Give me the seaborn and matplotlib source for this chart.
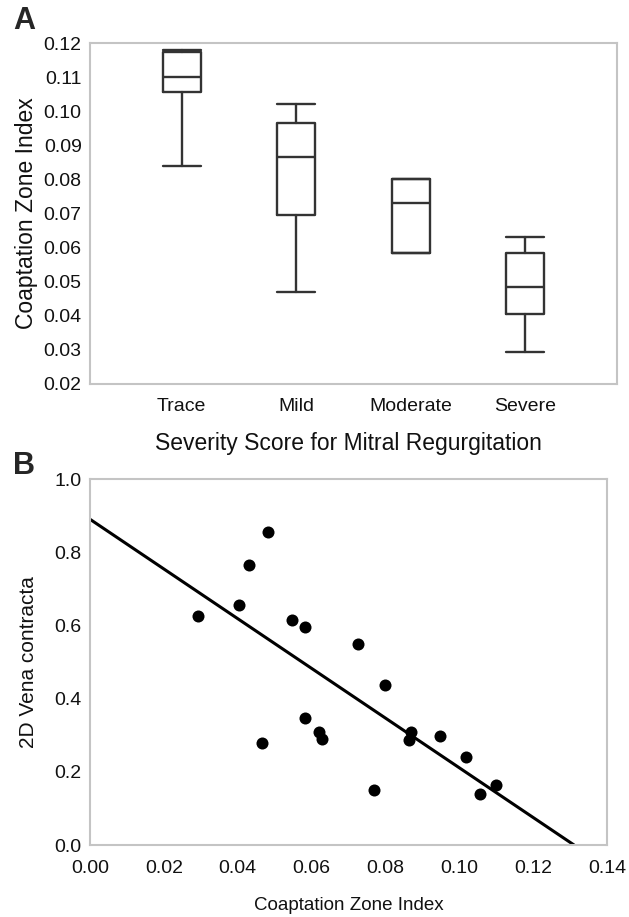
import seaborn as sns
import matplotlib.pyplot as plt
import pandas as pd
import numpy as np

# Panel A: box summary per MR severity grade
categories = ['Trace', 'Mild', 'Moderate', 'Severe']
box_min = [0.084, 0.047, 0.0585, 0.0295]
box_q1 = [0.1055, 0.0695, 0.0585, 0.0405]
box_med = [0.110, 0.0865, 0.073, 0.0485]
box_q3 = [0.1175, 0.0965, 0.080, 0.0585]
box_max = [0.118, 0.102, 0.080, 0.063]

# Panel B: coaptation zone index vs 2D vena contracta
czi = [0.0293, 0.0404, 0.0430, 0.0483, 0.0467, 0.0546, 0.0582, 0.0582, 0.0619, 0.0627,
       0.0727, 0.0769, 0.0798, 0.0868, 0.0863, 0.0948, 0.1019, 0.1055, 0.1099]
vena = [0.626, 0.656, 0.765, 0.854, 0.278, 0.614, 0.596, 0.348, 0.310, 0.289,
        0.548, 0.150, 0.438, 0.310, 0.288, 0.299, 0.240, 0.139, 0.163]
fit_intercept = 0.89
fit_slope = -6.79

sns.set_style("white")
plt.rcParams['font.family'] = ['Liberation Sans', 'DejaVu Sans']

fig = plt.figure(figsize=(6.29, 9.17), dpi=100)
W, H = 629, 917
axA = fig.add_axes([90 / W, 1 - 384 / H, (617 - 90) / W, (384 - 43) / H])
axB = fig.add_axes([90 / W, 1 - 845 / H, (607 - 90) / W, (845 - 479) / H])

edge = '#c4c4c4'
ink = '#333333'
txt = '#111111'

# --- Panel A ---
stats = []
for i, c in enumerate(categories):
    stats.append(dict(label=c, whislo=box_min[i], q1=box_q1[i], med=box_med[i],
                      q3=box_q3[i], whishi=box_max[i], fliers=[]))
lw = 1.7
axA.bxp(stats, positions=range(len(categories)), widths=0.33, showfliers=False,
        boxprops=dict(color=ink, linewidth=lw),
        medianprops=dict(color=ink, linewidth=lw),
        whiskerprops=dict(color=ink, linewidth=lw),
        capprops=dict(color=ink, linewidth=lw), capwidths=0.33)
axA.set_xlim(-0.8, 3.8)
axA.set_ylim(0.02, 0.12)
axA.set_yticks(np.arange(0.02, 0.121, 0.01))
axA.set_yticklabels([f'{v:.2f}' for v in np.arange(0.02, 0.121, 0.01)])
axA.set_xticks(range(len(categories)))
axA.set_xticklabels(categories, fontsize=14.5)
axA.tick_params(axis='both', labelsize=14, colors=edge, labelcolor=txt,
                length=4, width=1.2, direction='out', pad=2)
axA.tick_params(axis='x', pad=6)
axA.set_ylabel('Coaptation Zone Index', fontsize=16.5, color=txt, labelpad=4)
axA.set_xlabel('Severity Score for Mitral Regurgitation', fontsize=16.5, color=txt, labelpad=12)
axA.xaxis.label.set_x(0.49)

# --- Panel B ---
dfB = pd.DataFrame({'czi': czi, 'vena': vena})
sns.scatterplot(data=dfB, x='czi', y='vena', ax=axB, color='black', s=75,
                edgecolor='black', linewidth=0, zorder=3)
xs = np.array([0.0, -fit_intercept / fit_slope])
sns.lineplot(x=xs, y=fit_intercept + fit_slope * xs, ax=axB, color='black', linewidth=2.2)
axB.set_xlim(0, 0.14)
axB.set_ylim(0, 1.0)
axB.set_xticks(np.arange(0, 0.141, 0.02))
axB.set_xticklabels([f'{v:.2f}' for v in np.arange(0, 0.141, 0.02)])
axB.set_yticks(np.arange(0, 1.01, 0.2))
axB.set_yticklabels([f'{v:.1f}' for v in np.arange(0, 1.01, 0.2)])
axB.tick_params(axis='both', labelsize=14, colors=edge, labelcolor=txt,
                length=4, width=1.2, direction='out', pad=2)
axB.tick_params(axis='x', pad=7)
axB.set_xlabel('Coaptation Zone Index', fontsize=13.5, color=txt, labelpad=14)
axB.set_ylabel('2D Vena contracta', fontsize=15, color=txt, labelpad=12)

for ax in (axA, axB):
    for sp in ax.spines.values():
        sp.set_color(edge)
        sp.set_linewidth(1.5)
        sp.set_visible(True)

fig.text(13 / W, 1 - 21 / H, 'A', fontsize=22, fontweight='bold', va='center', ha='left')
fig.text(13 / W, 1 - 466 / H, 'B', fontsize=22, fontweight='bold', va='center', ha='left')

fig.savefig('out.png', dpi=100)
